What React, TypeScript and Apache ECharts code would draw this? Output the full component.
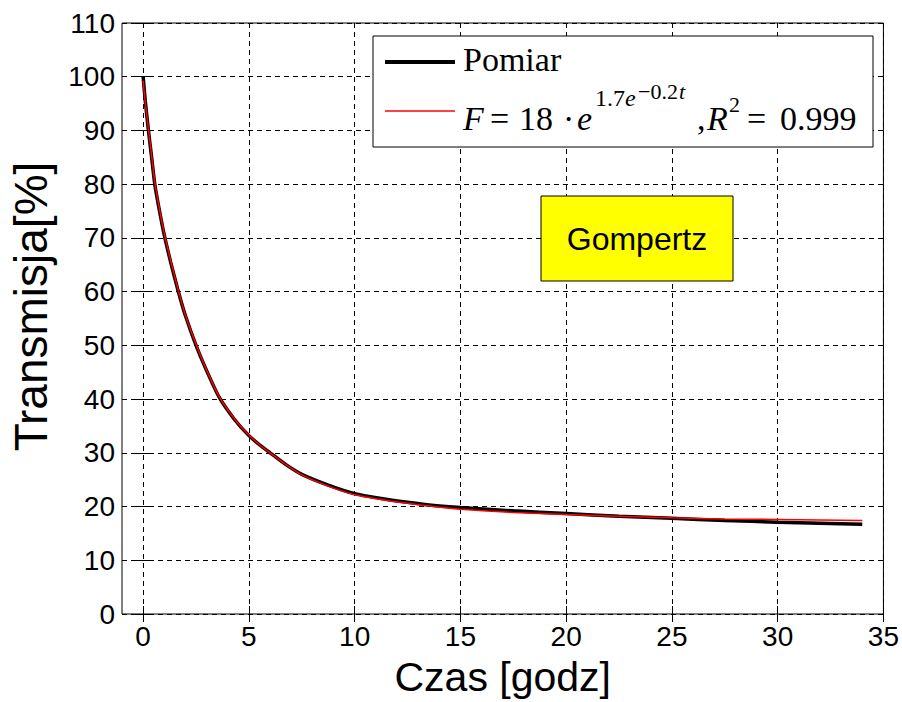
import React, { useEffect, useRef } from "react";
import * as echarts from "echarts";

const xTicks = [0, 5, 10, 15, 20, 25, 30, 35];
const measTime = [0, 0.1, 0.25, 0.4, 0.55, 0.75, 1.0, 1.3, 1.63, 2.0, 2.5, 3.0, 3.6, 4.3, 5.0, 5.5, 6.0, 6.75, 7.5, 8.75, 10, 11.25, 12.5, 13.75, 15, 17.5, 20, 22.5, 25, 27.5, 30, 32, 34];
const measValue = [100, 95.5, 90, 85, 80, 75.5, 70.5, 65.5, 60.5, 55.5, 50, 45.3, 40.3, 36.3, 33.2, 31.5, 30.0, 27.8, 26.0, 24.0, 22.4, 21.5, 20.8, 20.2, 19.8, 19.2, 18.7, 18.2, 17.8, 17.4, 17.1, 16.9, 16.7];
const fitTime = [0, 0.1, 0.25, 0.4, 0.55, 0.75, 1.0, 1.3, 1.63, 2.0, 2.5, 3.0, 3.6, 4.3, 5.0, 5.5, 6.0, 6.75, 7.5, 8.75, 10, 11.25, 12.5, 13.75, 15, 17.5, 20, 22.5, 25, 27.5, 30, 32, 34];
const fitValue = [99.3, 95.2, 90.3, 85.3, 80.4, 75.8, 70.8, 65.8, 60.7, 55.6, 50.2, 45.4, 40.4, 36.4, 33.3, 31.5, 30.0, 27.8, 25.9, 23.8, 22.2, 21.3, 20.6, 20.0, 19.5, 18.9, 18.5, 18.2, 17.9, 17.7, 17.6, 17.5, 17.4];

const SANS = "'Liberation Sans', Arial, sans-serif";
const SERIF = "'Liberation Serif', 'Times New Roman', serif";

function txt(text: string, x: number, baseline: number, size: number, italic = false) {
  return {
    type: "text",
    x,
    y: baseline - 0.35 * size,
    z: 20,
    style: {
      text,
      fill: "#000",
      font: `${italic ? "italic " : ""}${size}px ${SERIF}`,
      align: "left",
      verticalAlign: "middle",
    },
  };
}

export default function App() {
  const ref = useRef<HTMLDivElement>(null);
  useEffect(() => {
    if (!ref.current) return;
    const chart = echarts.init(ref.current, null, { renderer: "svg" });
    const grid = "#000";
    chart.setOption({
      animation: false,
      backgroundColor: "#fff",
      grid: { left: 120, right: 18, top: 23, bottom: 85, show: true, borderColor: "#000", borderWidth: 1, backgroundColor: "transparent" },
      xAxis: [
        {
          type: "value",
          min: -1,
          max: 35,
          name: "Czas [godz]",
          nameLocation: "middle",
          nameGap: 42,
          nameTextStyle: { fontFamily: SANS, fontSize: 41, color: "#000" },
          axisLine: { show: false },
          axisTick: { show: true, inside: true, length: 8, customValues: xTicks, lineStyle: { color: "#000" } },
          axisLabel: { customValues: xTicks, fontFamily: SANS, fontSize: 28, color: "#000", margin: 8 },
          splitLine: { show: true, lineStyle: { color: grid, type: [5, 4], width: 1 } },
        },
        {
          type: "value",
          position: "top",
          min: -1,
          max: 35,
          axisLine: { show: false },
          axisTick: { show: true, inside: true, length: 8, customValues: xTicks, lineStyle: { color: "#000" } },
          axisLabel: { show: false },
          splitLine: { show: false },
        },
      ],
      yAxis: [
        {
          type: "value",
          min: 0,
          max: 110,
          interval: 10,
          name: "Transmisja[%]",
          nameLocation: "middle",
          nameGap: 68,
          nameTextStyle: { fontFamily: SANS, fontSize: 46, color: "#000", padding: [0, 0, 0, 24] },
          axisLine: { show: false },
          axisTick: { show: true, inside: true, length: 8, lineStyle: { color: "#000" } },
          axisLabel: { fontFamily: SANS, fontSize: 28, color: "#000", margin: 7 },
          splitLine: { show: true, lineStyle: { color: grid, type: [5, 4], width: 1 } },
        },
        {
          type: "value",
          position: "right",
          min: 0,
          max: 110,
          interval: 10,
          axisLine: { show: false },
          axisTick: { show: true, inside: true, length: 8, lineStyle: { color: "#000" } },
          axisLabel: { show: false },
          splitLine: { show: false },
        },
      ],
      series: [
        {
          name: "Pomiar",
          type: "line",
          data: measTime.map((t, i) => [t, measValue[i]]),
          showSymbol: false,
          smooth: 0.2,
          lineStyle: { color: "#000", width: 3.5 },
          z: 3,
        },
        {
          name: "Fit",
          type: "line",
          data: fitTime.map((t, i) => [t, fitValue[i]]),
          showSymbol: false,
          smooth: 0.2,
          lineStyle: { color: "#ff0000", width: 1.5 },
          z: 4,
        },
      ],
      graphic: [
        {
          type: "rect",
          z: 10,
          shape: { x: 373, y: 36, width: 500, height: 111 },
          style: { fill: "#fff", stroke: "#000", lineWidth: 1 },
        },
        { type: "line", z: 20, shape: { x1: 385, y1: 62, x2: 455, y2: 62 }, style: { stroke: "#000", lineWidth: 4 } },
        { type: "line", z: 20, shape: { x1: 385, y1: 111, x2: 455, y2: 111 }, style: { stroke: "#ff0000", lineWidth: 1.5 } },
        txt("Pomiar", 463, 71, 34),
        txt("F", 463, 130, 34, true),
        txt("=", 490, 130, 34),
        txt("18", 519, 130, 34),
        txt("\u00b7", 563, 130, 34),
        txt("e", 577, 130, 34, true),
        txt("1.7", 595, 106, 24),
        txt("e", 625, 106, 24, true),
        txt("\u22120.2", 638, 99, 22),
        txt("t", 679, 99, 22, true),
        txt(",", 697, 130, 34),
        txt("R", 707, 130, 34, true),
        txt("2", 729, 112, 22),
        txt("=", 747, 130, 34),
        txt("0.999", 780, 130, 34),
        {
          type: "rect",
          z: 10,
          shape: { x: 541, y: 196, width: 192, height: 85 },
          style: { fill: "#ffff00", stroke: "#000", lineWidth: 1 },
        },
        {
          type: "text",
          z: 20,
          x: 637,
          y: 239,
          style: { text: "Gompertz", fill: "#000", font: `32px ${SANS}`, align: "center", verticalAlign: "middle" },
        },
      ],
    });
    return () => chart.dispose();
  }, []);
  return <div ref={ref} style={{ position: "fixed", left: 0, top: 0, width: 902, height: 702, background: "#fff" }} />;
}
